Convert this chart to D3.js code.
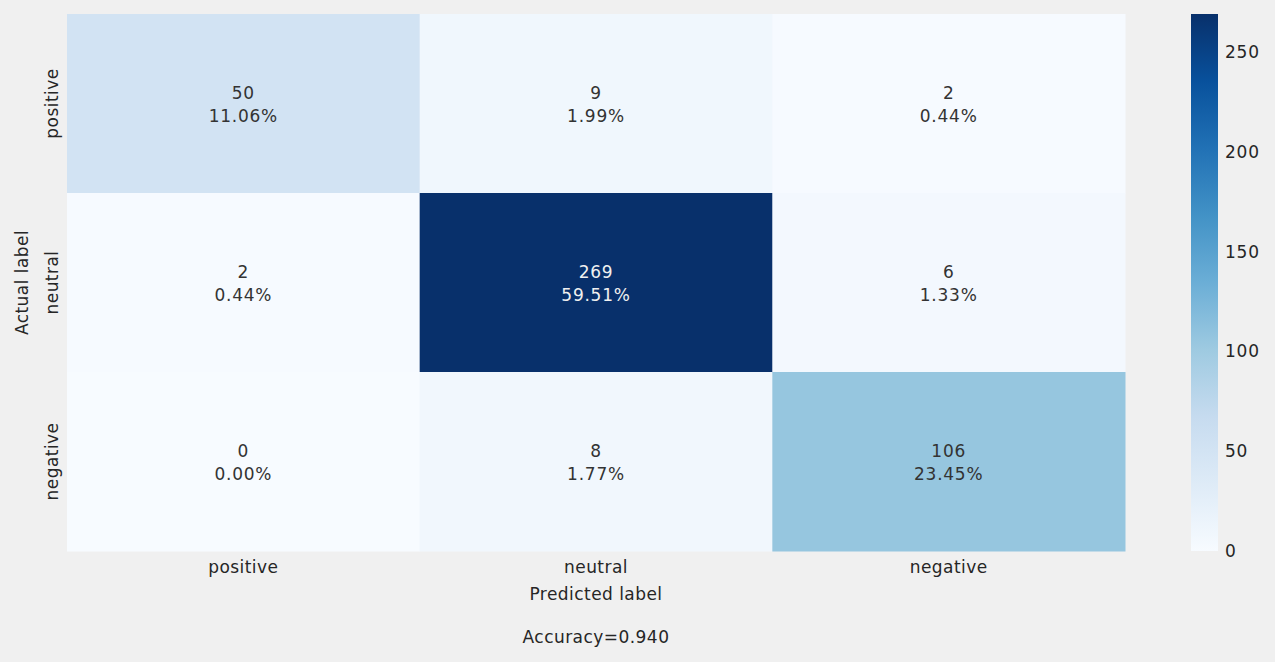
<!DOCTYPE html>
<html><head><meta charset="utf-8">
<script src="https://cdn.jsdelivr.net/npm/d3@7"></script>
<style>body{margin:0;background:#f0f0f0;}svg{display:block;font-family:"DejaVu Sans",sans-serif;}</style>
</head><body><svg id="c" width="1275" height="662"></svg>
<script>
const categories = ["positive", "neutral", "negative"];
const counts = [[50, 9, 2], [2, 269, 6], [0, 8, 106]];
const percents = ["11.06%", "1.99%", "0.44%", "0.44%", "59.51%", "1.33%", "0.00%", "1.77%", "23.45%"];
const colorbarTicks = [0, 50, 100, 150, 200, 250];
const blues = ["#f7fbff","#deebf7","#c6dbef","#9ecae1","#6baed6","#4292c6","#2171b5","#08519c","#08306b"];
const xTitle = "Predicted label", yTitle = "Actual label", footer = "Accuracy=0.940";

const FS = 17, LS = 0.45;
const svg = d3.select("#c");
svg.append("rect").attr("width",1275).attr("height",662).attr("fill","#f0f0f0");
const L=67,R=1125,T=14,B=551;
const x = d3.scaleBand().domain(categories).range([L,R]);
const y = d3.scaleBand().domain(categories).range([T,B]);
const vmax = d3.max(counts.flat()), vmin = d3.min(counts.flat());
const color = d3.scaleLinear().domain(d3.range(9).map(i=>vmin+(vmax-vmin)*i/8)).range(blues);
const cells = [];
counts.forEach((row,i)=>row.forEach((v,j)=>cells.push({r:categories[i],c:categories[j],v,p:percents[i*3+j]})));
const g = svg.append("g");
g.selectAll("rect").data(cells).join("rect")
 .attr("x",d=>x(d.c)).attr("y",d=>y(d.r)).attr("width",x.bandwidth()+0.5).attr("height",y.bandwidth()+0.5)
 .attr("fill",d=>color(d.v));
const fillFor = d=>d.v/vmax>0.6?"#f0f0f0":"#333333";
g.selectAll("text.v").data(cells).join("text").attr("class","v")
 .attr("x",d=>x(d.c)+x.bandwidth()/2).attr("y",d=>y(d.r)+y.bandwidth()/2-5)
 .attr("text-anchor","middle").attr("font-size",FS).attr("letter-spacing",LS+0.3).attr("fill",fillFor).text(d=>d.v);
g.selectAll("text.p").data(cells).join("text").attr("class","p")
 .attr("x",d=>x(d.c)+x.bandwidth()/2).attr("y",d=>y(d.r)+y.bandwidth()/2+18)
 .attr("text-anchor","middle").attr("font-size",FS).attr("letter-spacing",LS+0.3).attr("fill",fillFor).text(d=>d.p);

// x tick labels
svg.append("g").selectAll("text").data(categories).join("text")
 .attr("x",d=>x(d)+x.bandwidth()/2).attr("y",573).attr("text-anchor","middle")
 .attr("font-size",FS).attr("letter-spacing",LS).attr("fill","#262626").text(d=>d);
svg.selectAll(".yl").data(categories).join("text").attr("class","yl")
 .attr("transform",d=>`translate(58,${y(d)+y.bandwidth()/2}) rotate(-90)`)
 .attr("text-anchor","middle").attr("font-size",FS).attr("letter-spacing",LS).attr("fill","#262626").text(d=>d);
svg.append("text").attr("x",(L+R)/2).attr("y",600).attr("text-anchor","middle").attr("font-size",FS).attr("letter-spacing",LS).attr("fill","#262626").text(xTitle);
svg.append("text").attr("transform",`translate(28,${(T+B)/2}) rotate(-90)`).attr("text-anchor","middle").attr("font-size",FS).attr("letter-spacing",LS).attr("fill","#262626").text(yTitle);
svg.append("text").attr("x",(L+R)/2).attr("y",643).attr("text-anchor","middle").attr("font-size",FS).attr("letter-spacing",LS).attr("fill","#262626").text(footer);

// colorbar
const cbX=1191, cbW=27;
const cy = d3.scaleLinear().domain([vmin,vmax]).range([B,T]);
const defs = svg.append("defs");
const grad = defs.append("linearGradient").attr("id","cb").attr("x1",0).attr("y1",1).attr("x2",0).attr("y2",0);
blues.forEach((b,i)=>grad.append("stop").attr("offset",i/8).attr("stop-color",b));
svg.append("rect").attr("x",cbX).attr("y",T).attr("width",cbW).attr("height",B-T).attr("fill","url(#cb)");
const ax = d3.axisRight(cy).tickValues(colorbarTicks).tickSize(0).tickPadding(7);
const axg = svg.append("g").attr("transform",`translate(${cbX+cbW},0)`).call(ax);
axg.select(".domain").remove();
axg.selectAll("text").attr("font-size",FS).attr("letter-spacing",LS+0.3).attr("fill","#262626").attr("font-family","DejaVu Sans, sans-serif");
</script></body></html>
